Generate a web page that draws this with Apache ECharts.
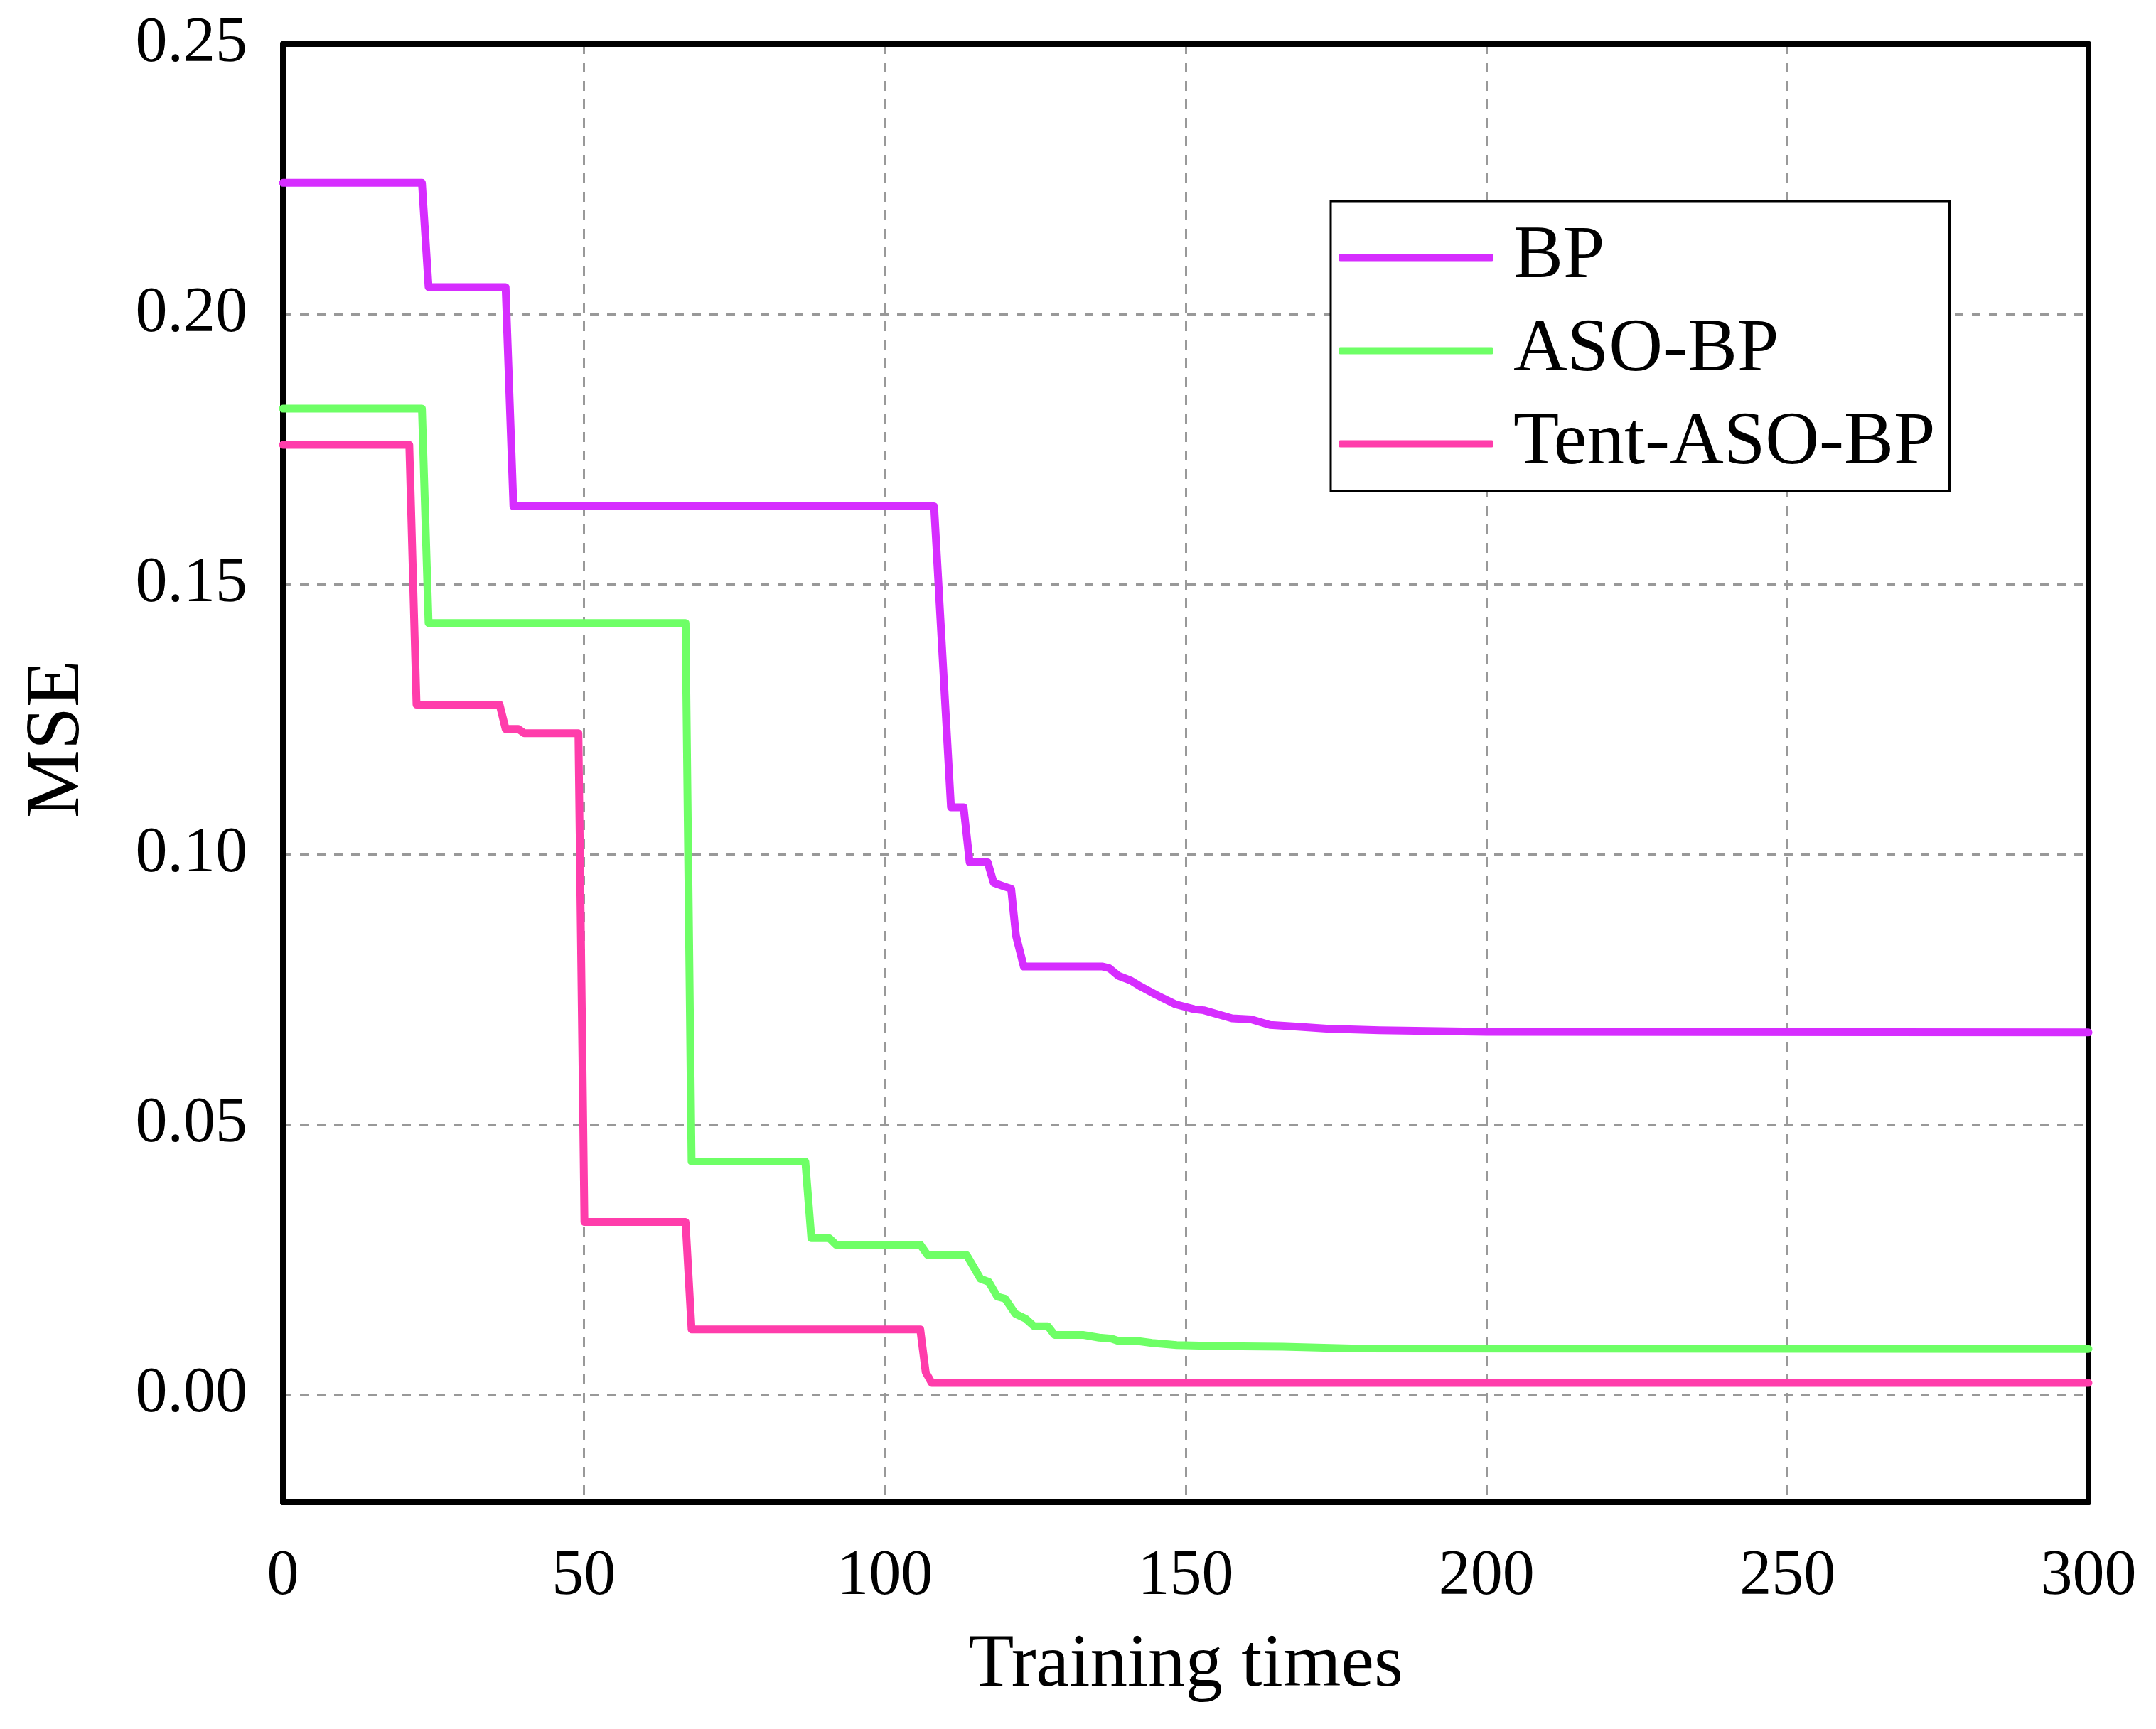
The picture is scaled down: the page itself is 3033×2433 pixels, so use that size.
<!DOCTYPE html>
<html>
<head>
<meta charset="utf-8">
<title>MSE</title>
<script src="https://cdn.jsdelivr.net/npm/echarts@6/dist/echarts.min.js"></script>
<style>
  html, body { margin: 0; padding: 0; background: #fff; }
  #chart { width: 3033px; height: 2433px; }
</style>
</head>
<body>
<div id="chart"></div>
<script>
// 数据：训练次数 / MSE
var bpX = [0, 23.1, 24.2, 37.0, 38.3, 108.2, 111.0, 113.1, 114.1, 117.1, 118.1, 119.9, 121.0, 121.8, 123.1, 136.2, 137.3, 138.8, 140.9, 142.5, 145.2, 148.3, 151.4, 153.0, 157.7, 160.9, 164.0, 168.2, 173.4, 182.2, 200, 300];
var bpY = [0.2243, 0.2243, 0.2050, 0.2050, 0.1644, 0.1644, 0.1087, 0.1087, 0.0985, 0.0985, 0.0947, 0.0940, 0.0936, 0.0849, 0.0792, 0.0792, 0.0789, 0.0775, 0.0766, 0.0755, 0.0739, 0.0722, 0.0713, 0.0711, 0.0696, 0.0694, 0.0684, 0.0681, 0.0677, 0.0674, 0.0671, 0.0670];

var asoX = [0, 23.1, 24.2, 66.9, 67.9, 86.8, 87.8, 90.8, 91.9, 105.9, 107.1, 113.6, 115.9, 117.3, 118.7, 120.0, 121.7, 123.4, 124.8, 127.1, 128.2, 132.9, 135.6, 137.7, 139.0, 142.4, 144.4, 148.5, 156, 166.1, 177.5, 300];
var asoY = [0.1825, 0.1825, 0.1428, 0.1428, 0.0431, 0.0431, 0.0289, 0.0289, 0.0277, 0.0277, 0.0258, 0.0258, 0.0214, 0.0208, 0.0181, 0.0177, 0.0149, 0.0140, 0.0126, 0.0126, 0.0110, 0.0110, 0.0105, 0.0103, 0.0098, 0.0098, 0.0095, 0.0091, 0.0089, 0.0088, 0.0085, 0.0084];

var tentX = [0, 21.0, 22.2, 36.0, 37.0, 39.1, 40.1, 49.1, 50.1, 66.9, 67.9, 105.9, 106.8, 107.8, 300];
var tentY = [0.1758, 0.1758, 0.1277, 0.1277, 0.1232, 0.1232, 0.1224, 0.1224, 0.0319, 0.0319, 0.0120, 0.0120, 0.0041, 0.0021, 0.0021];

var seriesNames = ['BP', 'ASO-BP', 'Tent-ASO-BP'];
var seriesColors = ['#D62DFF', '#6EFF66', '#FF3DAB'];
var yTicks = [0, 0.05, 0.10, 0.15, 0.20, 0.25];

function pairs(xs, ys) {
  return xs.map(function(x, i) { return [x, ys[i]]; });
}

var serif = 'Liberation Serif';
var chart = echarts.init(document.getElementById('chart'), null, { renderer: 'canvas' });

function lineSeries(idx, data) {
  var color = seriesColors[idx];
  return {
    name: seriesNames[idx],
    type: 'line',
    data: data,
    showSymbol: false,
    symbol: 'none',
    z: 5,
    lineStyle: { color: color, width: 11, cap: 'round', join: 'round' },
    itemStyle: { color: color }
  };
}

// 边框：上/右两条只画轴线
var frameLine = { show: true, onZero: false, lineStyle: { color: '#000', width: 8 } };

var option = {
  backgroundColor: '#fff',
  animation: false,
  grid: { left: 398, right: 95, top: 62, bottom: 319 },
  legend: {
    orient: 'vertical',
    left: 1872,
    top: 283,
    padding: [27, 20, 14, 11],
    itemGap: 26,
    itemWidth: 218,
    itemHeight: 10,
    icon: 'roundRect',
    backgroundColor: '#fff',
    borderColor: '#000',
    borderWidth: 3,
    z: 10,
    data: seriesNames,
    textStyle: {
      fontFamily: serif, fontSize: 105, color: '#000',
      lineHeight: 90, padding: [0, 0, 0, 23]
    }
  },
  xAxis: [{
    type: 'value',
    min: 0, max: 300, interval: 50,
    name: 'Training times',
    nameLocation: 'middle',
    nameGap: 178,
    nameTextStyle: { fontFamily: serif, fontSize: 105, color: '#000' },
    axisLine: frameLine,
    axisTick: { show: false },
    axisLabel: { fontFamily: serif, fontSize: 90, color: '#000', margin: 60 },
    splitLine: { show: true, lineStyle: { color: '#999', width: 3, type: [14, 12] } }
  }, {
    type: 'value',
    position: 'top',
    min: 0, max: 300, interval: 50,
    axisLine: frameLine,
    axisTick: { show: false },
    axisLabel: { show: false },
    splitLine: { show: false }
  }],
  yAxis: [{
    type: 'value',
    min: -0.02, max: 0.25,
    name: 'MSE',
    nameLocation: 'middle',
    nameRotate: 90,
    nameGap: 262,
    nameTextStyle: { fontFamily: serif, fontSize: 108, color: '#000', padding: [0, 0, 0, 96] },
    axisLine: frameLine,
    axisTick: { show: false, customValues: yTicks },
    axisLabel: {
      customValues: yTicks,
      fontFamily: serif, fontSize: 90, color: '#000', margin: 50,
      formatter: function(v) { return v.toFixed(2); }
    },
    splitLine: { show: true, lineStyle: { color: '#999', width: 3, type: [12, 12] } }
  }, {
    type: 'value',
    position: 'right',
    min: -0.02, max: 0.25,
    axisLine: frameLine,
    axisTick: { show: false },
    axisLabel: { show: false },
    splitLine: { show: false }
  }],
  series: [
    lineSeries(0, pairs(bpX, bpY)),
    lineSeries(1, pairs(asoX, asoY)),
    lineSeries(2, pairs(tentX, tentY))
  ]
};

chart.setOption(option);
</script>
</body>
</html>
